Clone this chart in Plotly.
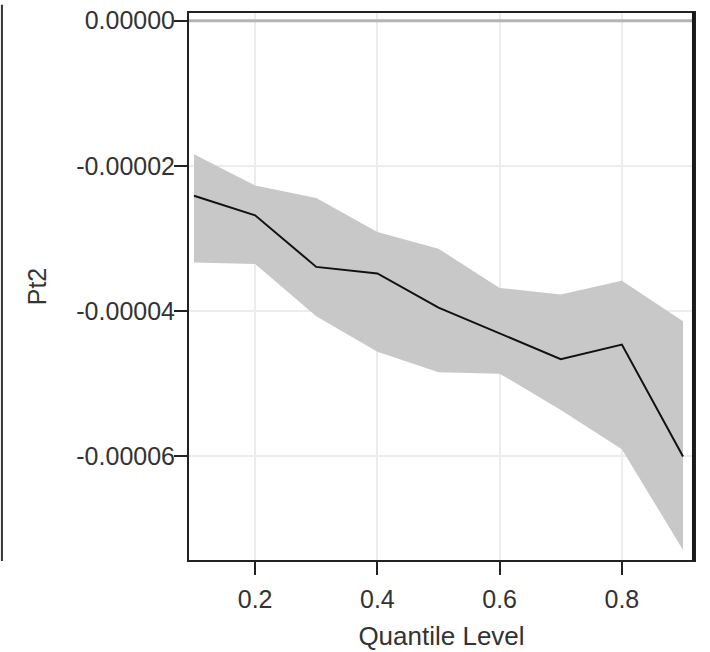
import plotly.graph_objects as go

quantiles = [0.1, 0.2, 0.3, 0.4, 0.5, 0.6, 0.7, 0.8, 0.9]
estimate = [-2.41e-5, -2.68e-5, -3.39e-5, -3.48e-5, -3.95e-5, -4.31e-5, -4.66e-5, -4.46e-5, -6.00e-5]
upper = [-1.84e-5, -2.27e-5, -2.44e-5, -2.91e-5, -3.14e-5, -3.68e-5, -3.77e-5, -3.58e-5, -4.14e-5]
lower = [-3.33e-5, -3.35e-5, -4.07e-5, -4.56e-5, -4.84e-5, -4.86e-5, -5.36e-5, -5.90e-5, -7.29e-5]

x_ticks = [0.2, 0.4, 0.6, 0.8]
x_ticktext = ["0.2", "0.4", "0.6", "0.8"]
y_ticks = [0.0, -2e-5, -4e-5, -6e-5]
y_ticktext = ["0.00000", "-0.00002", "-0.00004", "-0.00006"]

fig = go.Figure()
fig.add_trace(go.Scatter(x=quantiles, y=upper, mode="lines", line=dict(width=0),
                         showlegend=False, hoverinfo="skip"))
fig.add_trace(go.Scatter(x=quantiles, y=lower, mode="lines", line=dict(width=0),
                         fill="tonexty", fillcolor="#c8c8c8", showlegend=False, hoverinfo="skip"))
fig.add_trace(go.Scatter(x=quantiles, y=estimate, mode="lines",
                         line=dict(color="#111111", width=2), showlegend=False))

fig.add_hline(y=0, line=dict(color="#b4b4b4", width=3), layer="above")

# plot frame
fig.add_shape(type="rect", xref="paper", yref="paper", x0=0, x1=1, y0=0, y1=1,
              line=dict(color="#222222", width=2), layer="above")
fig.add_shape(type="line", xref="paper", yref="paper", x0=0.997, x1=0.997, y0=0, y1=1,
              line=dict(color="#1a1a1a", width=3), layer="above")

# left border of the neighbouring panel
fig.add_shape(type="line", xref="paper", yref="paper", x0=-0.367, x1=-0.367, y0=0, y1=1.013,
              line=dict(color="#333333", width=2))

font_family = "Liberation Sans, Arial, sans-serif"
fig.update_layout(
    width=710, height=652,
    margin=dict(l=188, r=15, t=7, b=90),
    plot_bgcolor="white", paper_bgcolor="white",
    font=dict(family=font_family, color="#333333", size=24),
    xaxis=dict(range=[0.0902, 0.9196], tickvals=x_ticks, ticktext=x_ticktext,
               showgrid=True, gridcolor="#ececec", gridwidth=2,
               showline=False, zeroline=False,
               ticks="outside", ticklen=13, tickwidth=2, tickcolor="#222222",
               tickfont=dict(size=25), ticklabelstandoff=3,
               title=dict(text="Quantile Level", font=dict(size=26), standoff=14)),
    yaxis=dict(range=[-7.44e-5, 0.12e-5], tickvals=y_ticks, ticktext=y_ticktext,
               showgrid=True, gridcolor="#ececec", gridwidth=2,
               showline=False, zeroline=False,
               ticks="outside", ticklen=13, tickwidth=2, tickcolor="#222222",
               tickfont=dict(size=25), ticklabelstandoff=-6,
               title=dict(text="Pt2", font=dict(size=25), standoff=22)),
)

fig.write_html("out.html", config={"displayModeBar": False},
               post_script="document.body.style.margin='0px';"
                           "document.documentElement.style.overflow='hidden';"
                           "document.body.style.overflow='hidden';")
